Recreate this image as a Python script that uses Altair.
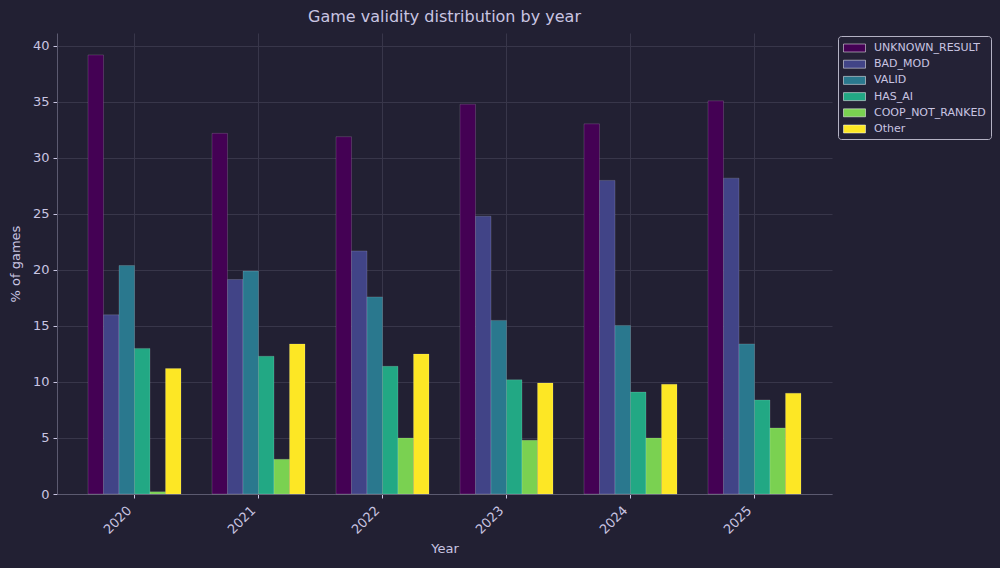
import altair as alt
import pandas as pd

years = ["2020", "2021", "2022", "2023", "2024", "2025"]
categories = ["UNKNOWN_RESULT", "BAD_MOD", "VALID", "HAS_AI", "COOP_NOT_RANKED", "Other"]
colors = ["#440154", "#414487", "#2a788e", "#22a884", "#7ad151", "#fde725"]

unknown_result = [39.2, 32.2, 31.9, 34.8, 33.05, 35.1]
bad_mod = [16.0, 19.15, 21.7, 24.8, 28.0, 28.2]
valid = [20.4, 19.9, 17.6, 15.5, 15.05, 13.4]
has_ai = [13.0, 12.3, 11.4, 10.2, 9.1, 8.4]
coop_not_ranked = [0.2, 3.1, 5.0, 4.8, 5.0, 5.9]
other = [11.2, 13.4, 12.5, 9.9, 9.8, 9.0]

series = [unknown_result, bad_mod, valid, has_ai, coop_not_ranked, other]
rows = []
for cat, vals in zip(categories, series):
    for y, v in zip(years, vals):
        rows.append({"Year": y, "Category": cat, "Value": v})
df = pd.DataFrame(rows)

bg = "#222033"
txt = "#c9c5e2"
grid = "#38364a"
spine = "#5c5a70"

chart = alt.Chart(df).mark_bar(
    stroke="#ffffff", strokeOpacity=0.15, strokeWidth=1
).encode(
    x=alt.X("Year:N", sort=years, title="Year",
            scale=alt.Scale(paddingInner=0.25, paddingOuter=0.25),
            axis=alt.Axis(labelAngle=-45, labelAlign="right", labelBaseline="middle",
                          bandPosition=0.5, grid=True, gridColor=grid,
                          domainColor=spine, tickColor=txt, tickSize=4,
                          labelPadding=10, labelOffset=-5, titlePadding=6)),
    xOffset=alt.XOffset("Category:N", sort=categories,
                        scale=alt.Scale(paddingInner=0, paddingOuter=0)),
    y=alt.Y("Value:Q", title="% of games",
            scale=alt.Scale(domain=[0, 41.16], nice=False, zero=True),
            axis=alt.Axis(values=[0, 5, 10, 15, 20, 25, 30, 35, 40], grid=True,
                          gridColor=grid, domainColor=spine, tickColor=txt,
                          tickSize=4, labelPadding=4, titlePadding=10)),
    color=alt.Color("Category:N", sort=categories,
                    scale=alt.Scale(domain=categories, range=colors),
                    legend=alt.Legend(
                        title=None, orient="none", legendX=781, legendY=3,
                        symbolType="M-1,-0.615H2.385V0.615H-1Z", symbolSize=169,
                        symbolStrokeWidth=0.5, symbolStrokeColor="#ffffff",
                        labelFontSize=11, labelColor=txt, labelFont="DejaVu Sans",
                        rowPadding=4.2, padding=5, labelOffset=17,
                        fillColor="#242236", strokeColor="#b4b2c4",
                        cornerRadius=3)),
).properties(
    width=775, height=461,
    background=bg,
    padding={"left": 57, "top": 33, "right": 168, "bottom": 74},
    autosize=alt.AutoSizeParams(type="none"),
    title=alt.TitleParams("Game validity distribution by year", fontSize=16,
                          font="DejaVu Sans", fontWeight="normal", color=txt,
                          anchor="middle", offset=8),
).configure_view(
    stroke=None
).configure_axis(
    labelFont="DejaVu Sans", titleFont="DejaVu Sans", labelFontSize=13,
    titleFontSize=13, labelColor=txt, titleColor=txt, titleFontWeight="normal",
    gridOpacity=1
)

chart.save("out.html", embed_options={"renderer": "svg", "actions": False})
